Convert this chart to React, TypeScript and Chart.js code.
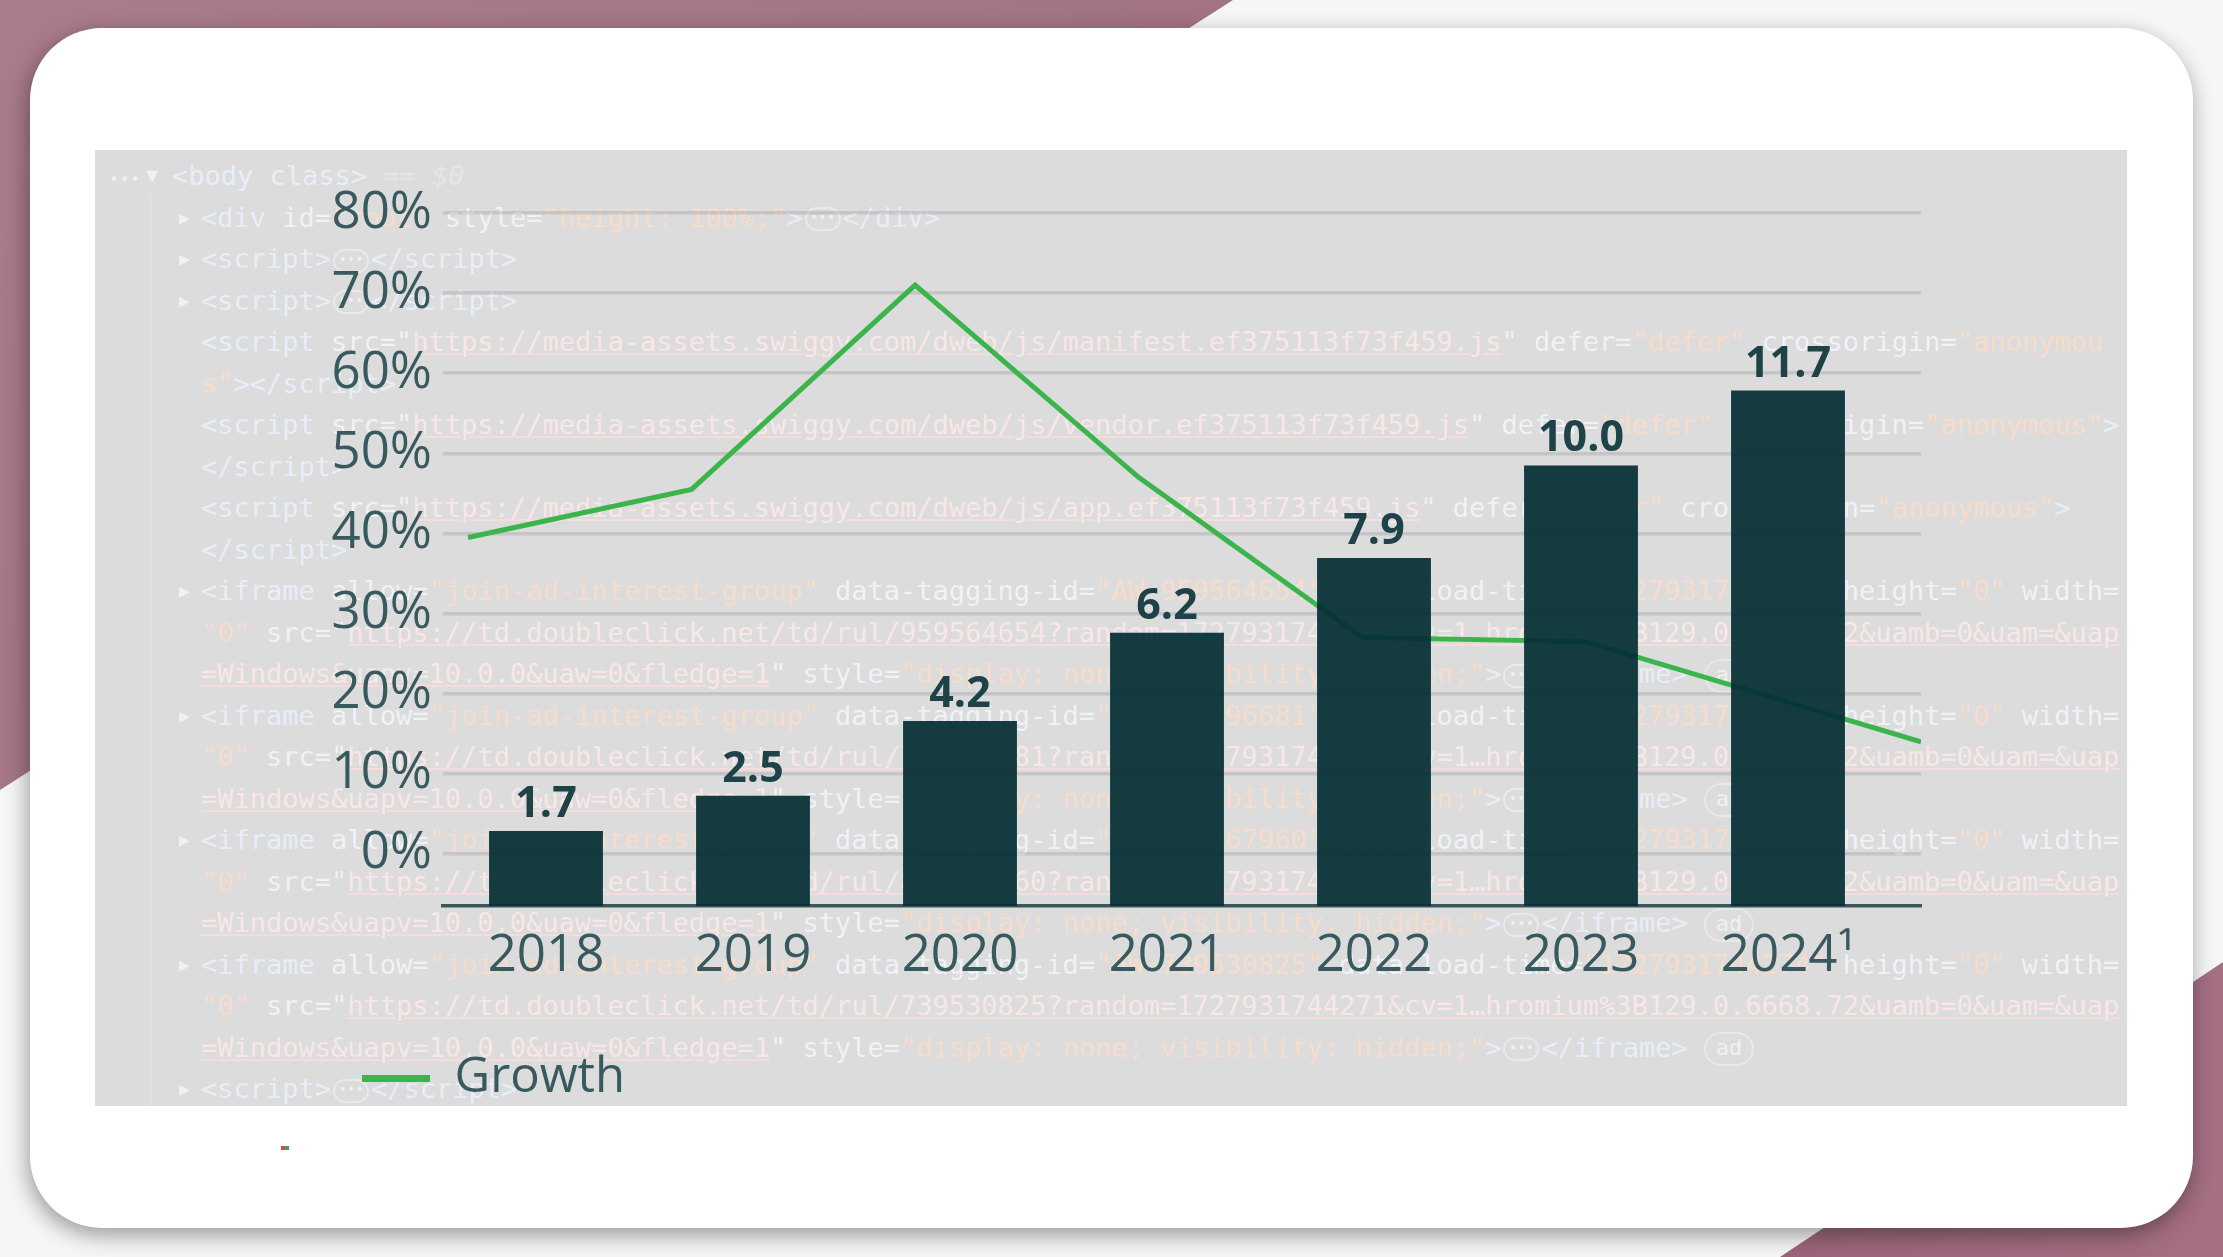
import React, { useEffect, useRef } from 'react';
import { Chart, registerables } from 'chart.js';

Chart.register(...registerables);

// ---- chart data ----
const years = [2018, 2019, 2020, 2021, 2022, 2023, 2024];
const yearLabels = ['2018', '2019', '2020', '2021', '2022', '2023', '2024¹'];
const revenue = [1.7, 2.5, 4.2, 6.2, 7.9, 10.0, 11.7];
// growth line (drawn on its own, slightly mis-aligned overlay axis, as in the source)
const growthX = [2018, 2019, 2020, 2021, 2022, 2023, 2024.5];
const growth = [39.5, 45.5, 71, 47, 27, 26.5, 14];
const percentTicks = [0, 10, 20, 30, 40, 50, 60, 70, 80];

// ---- faded devtools text behind the chart ----
type Seg = [string, string];
const iframeLines = (id: string, load: string, rnd: string): Seg[][] => [
  [['t', '<iframe '], ['a', 'allow='], ['v', '"join-ad-interest-group"'], ['a', ' data-tagging-id='], ['v', `"AW-${id}"`], ['a', ' data-load-time='], ['v', `"${load}"`], ['a', ' height='], ['v', '"0"'], ['a', ' width=']],
  [['v', '"0"'], ['a', ' src='], ['q', '"'], ['u', `https://td.doubleclick.net/td/rul/${id}?random=${rnd}&cv=1…hromium%3B129.0.6668.72&uamb=0&uam=&uap`]],
  [['u', '=Windows&uapv=10.0.0&uaw=0&fledge=1'], ['q', '"'], ['a', ' style='], ['v', '"display: none; visibility: hidden;"'], ['t', '>'], ['e', ''], ['t', '</iframe>'], ['q', ' '], ['d', 'ad']],
];
const scriptSrc = (file: string, tail: Seg[]): Seg[] => [
  ['t', '<script '], ['a', 'src='], ['q', '"'], ['u', `https://media-assets.swiggy.com/dweb/js/${file}`], ['q', '"'], ['a', ' defer='], ['v', '"defer"'], ['a', ' crossorigin='], ...tail,
];
const ifr1 = iframeLines('959564654', '1727931744155', '1727931744151');
const ifr2 = iframeLines('769796681', '1727931744177', '1727931744173');
const ifr3 = iframeLines('815667960', '1727931744190', '1727931744186');
const ifr4 = iframeLines('739530825', '1727931744274', '1727931744271');
const codeLines: { tri: boolean; segs: Seg[] }[] = [
  { tri: true, segs: [['t', '<div '], ['a', 'id='], ['v', '"root"'], ['a', ' style='], ['v', '"height: 100%;"'], ['t', '>'], ['e', ''], ['t', '</div>']] },
  { tri: true, segs: [['t', '<script>'], ['e', ''], ['t', '</script>']] },
  { tri: true, segs: [['t', '<script>'], ['e', ''], ['t', '</script>']] },
  { tri: false, segs: scriptSrc('manifest.ef375113f73f459.js', [['v', '"anonymou']]) },
  { tri: false, segs: [['v', 's"'], ['t', '></script>']] },
  { tri: false, segs: scriptSrc('vendor.ef375113f73f459.js', [['v', '"anonymous"'], ['t', '>']]) },
  { tri: false, segs: [['t', '</script>']] },
  { tri: false, segs: scriptSrc('app.ef375113f73f459.js', [['v', '"anonymous"'], ['t', '>']]) },
  { tri: false, segs: [['t', '</script>']] },
  { tri: true, segs: ifr1[0] }, { tri: false, segs: ifr1[1] }, { tri: false, segs: ifr1[2] },
  { tri: true, segs: ifr2[0] }, { tri: false, segs: ifr2[1] }, { tri: false, segs: ifr2[2] },
  { tri: true, segs: ifr3[0] }, { tri: false, segs: ifr3[1] }, { tri: false, segs: ifr3[2] },
  { tri: true, segs: ifr4[0] }, { tri: false, segs: ifr4[1] }, { tri: false, segs: ifr4[2] },
  { tri: true, segs: [['t', '<script>'], ['e', ''], ['t', '</script>']] },
];

const segColor: Record<string, string> = {
  t: '#e7eef8', a: '#eff2f6', v: '#f7dccb', u: '#f9e7e7', q: '#eff2f6',
};

const MONO = '"DejaVu Sans Mono", "Liberation Mono", monospace';
const SANS = '"Open Sans", "Noto Sans", sans-serif';
const LINE_H = 41.5;
const FIRST_CENTER = 26; // relative to panel

function renderSeg(s: Seg, k: number) {
  const [kind, text] = s;
  if (kind === 'e') {
    return (
      <span key={k} style={{ display: 'inline-block', boxSizing: 'border-box', width: 36, height: 24, margin: '0 2px', border: '2px solid #e9e9e9', borderRadius: 12, fontSize: 14, lineHeight: '16px', textAlign: 'center', verticalAlign: 'middle', color: '#efefef' }}>•••</span>
    );
  }
  if (kind === 'd') {
    return (
      <span key={k} style={{ display: 'inline-block', boxSizing: 'border-box', width: 50, height: 34, border: '2px solid #e8e8e8', borderRadius: 17, fontSize: 22, lineHeight: '28px', textAlign: 'center', verticalAlign: 'middle', color: '#f0f0f0' }}>{text}</span>
    );
  }
  return (
    <span key={k} style={{ color: segColor[kind], textDecoration: kind === 'u' ? 'underline' : 'none', textDecorationColor: '#f6dcdc' }}>{text}</span>
  );
}

const barLabels = {
  id: 'barLabels',
  afterDatasetsDraw(chart: any) {
    const meta = chart.getDatasetMeta(0);
    const ctx = chart.ctx;
    ctx.save();
    ctx.font = `bold 43px ${SANS}`;
    ctx.fillStyle = '#1d4248';
    ctx.textAlign = 'center';
    ctx.textBaseline = 'alphabetic';
    meta.data.forEach((el: any, i: number) => {
      ctx.fillText(revenue[i].toFixed(1), el.x, el.y - 14);
    });
    ctx.restore();
  },
};

export default function App() {
  const ref = useRef<HTMLCanvasElement>(null);

  useEffect(() => {
    if (!ref.current) return;
    const chart = new Chart(ref.current, {
      type: 'bar',
      data: {
        datasets: [
          {
            type: 'bar',
            label: 'Revenue',
            data: years.map((x, i) => ({ x, y: revenue[i] })),
            xAxisID: 'x',
            yAxisID: 'y',
            backgroundColor: 'rgba(3,46,52,0.93)',
            barPercentage: 0.55,
            categoryPercentage: 1,
            grouped: false,
            order: 1,
          } as any,
          {
            type: 'line',
            label: 'Growth',
            data: growthX.map((x, i) => ({ x, y: growth[i] })),
            xAxisID: 'xg',
            yAxisID: 'yp',
            borderColor: '#3cb44c',
            backgroundColor: '#3cb44c',
            borderWidth: 5,
            pointRadius: 0,
            tension: 0,
            order: 2,
          } as any,
        ],
      },
      options: {
        animation: false,
        responsive: true,
        maintainAspectRatio: false,
        layout: { padding: { left: 200, right: 206, top: 63, bottom: 77 } },
        plugins: {
          tooltip: { enabled: false },
          legend: {
            position: 'bottom',
            align: 'start',
            labels: {
              filter: (item: any) => item.text === 'Growth',
              generateLabels: (c: any) =>
                (Chart.defaults.plugins.legend.labels.generateLabels as any)(c).map((it: any) => ({ ...it, lineWidth: 7 })),
              usePointStyle: true,
              pointStyle: 'line',
              pointStyleWidth: 68,
              padding: 67,
              color: '#38595e',
              font: { family: SANS, size: 49 },
            },
          },
        },
        scales: {
          x: {
            type: 'linear',
            position: 'bottom',
            offset: false,
            min: 2017.5024,
            max: 2024.6425,
            afterBuildTicks: (s: any) => { s.ticks = years.map((v) => ({ value: v })); },
            afterFit: (s: any) => { s.height = 81; },
            grid: { display: false, drawTicks: false },
            border: { display: true, color: '#3c5559', width: 3.5 },
            ticks: {
              autoSkip: false,
              maxRotation: 0,
              padding: 20,
              color: '#38595e',
              font: { family: SANS, size: 51 },
              callback: (v: any) => yearLabels[years.indexOf(Number(v))] ?? '',
            },
          },
          xg: { type: 'linear', display: false, offset: false, min: 2017.888, max: 2024.5 },
          y: { type: 'linear', display: false, min: 0, max: 15.73 },
          yp: {
            type: 'linear',
            position: 'left',
            min: -6.5,
            max: 80,
            afterBuildTicks: (s: any) => { s.ticks = percentTicks.map((v) => ({ value: v })); },
            afterFit: (s: any) => { s.width = 148; },
            grid: { color: 'rgba(150,150,150,0.32)', lineWidth: 3.5, drawTicks: false },
            border: { display: false },
            ticks: {
              padding: 11,
              color: '#38595e',
              font: { family: SANS, size: 51 },
              callback: (v: any) => `${v}%`,
            },
          },
        } as any,
      },
      plugins: [barLabels],
    });
    return () => chart.destroy();
  }, []);

  return (
    <div style={{ position: 'fixed', left: 0, top: 0, width: 2223, height: 1257, overflow: 'hidden', background: '#f6f6f6' }}>
      <div style={{ position: 'absolute', inset: 0, background: 'linear-gradient(135deg, #a97c8c 0%, #9d6c7d 60%)', clipPath: 'polygon(0 0, 1233px 0, 0 790px)' }} />
      <div style={{ position: 'absolute', inset: 0, background: 'linear-gradient(to right, #7f4d61 0%, #8c566b 50%, #a56f84 100%)', clipPath: 'polygon(2223px 962px, 2223px 1257px, 1780px 1257px)' }} />
      <div style={{ position: 'absolute', left: 30, top: 28, width: 2163, height: 1200, borderRadius: 72, background: '#ffffff', boxShadow: '-2px 7px 22px rgba(0,0,0,0.38)' }} />
      <div style={{ position: 'absolute', left: 95, top: 150, width: 2032, height: 956, background: '#dcdcdc', borderLeft: '4px solid #e0dcdd', boxSizing: 'border-box', overflow: 'hidden', fontFamily: MONO, fontSize: 27, whiteSpace: 'pre' }}>
        <div style={{ position: 'absolute', left: 50, top: 44, width: 3, height: 920, background: '#e0e0e0' }} />
        <div style={{ position: 'absolute', left: 10, top: FIRST_CENTER - LINE_H / 2, height: LINE_H, lineHeight: `${LINE_H}px` }}>
          <span style={{ color: '#f0f0f0', fontSize: 16, letterSpacing: 1 }}>•••</span>
        </div>
        <div style={{ position: 'absolute', left: 47, top: FIRST_CENTER - LINE_H / 2, height: LINE_H, lineHeight: `${LINE_H}px`, color: '#f1f1f1', fontSize: 20 }}>▼</div>
        <div style={{ position: 'absolute', left: 73, top: FIRST_CENTER - LINE_H / 2, height: LINE_H, lineHeight: `${LINE_H}px` }}>
          <span style={{ color: segColor.t }}>{'<body class>'}</span>
          <span style={{ color: '#e6e6e6', fontStyle: 'italic' }}>{' == $0'}</span>
        </div>
        {codeLines.map((ln, i) => {
          const top = FIRST_CENTER + LINE_H * (i + 1) - LINE_H / 2;
          return (
            <React.Fragment key={i}>
              {ln.tri && (
                <div style={{ position: 'absolute', left: 80, top, height: LINE_H, lineHeight: `${LINE_H}px`, color: '#f1f1f1', fontSize: 18 }}>▶</div>
              )}
              <div style={{ position: 'absolute', left: 102, top, height: LINE_H, lineHeight: `${LINE_H}px` }}>
                {ln.segs.map(renderSeg)}
              </div>
            </React.Fragment>
          );
        })}
      </div>
      <div style={{ position: 'absolute', left: 95, top: 150, width: 2032, height: 1040 }}>
        <canvas ref={ref} />
      </div>
      <div style={{ position: 'absolute', left: 281, top: 1146, width: 4, height: 4, background: '#d84a3a' }} />
      <div style={{ position: 'absolute', left: 285, top: 1146, width: 4, height: 4, background: '#3aa84a' }} />
    </div>
  );
}
